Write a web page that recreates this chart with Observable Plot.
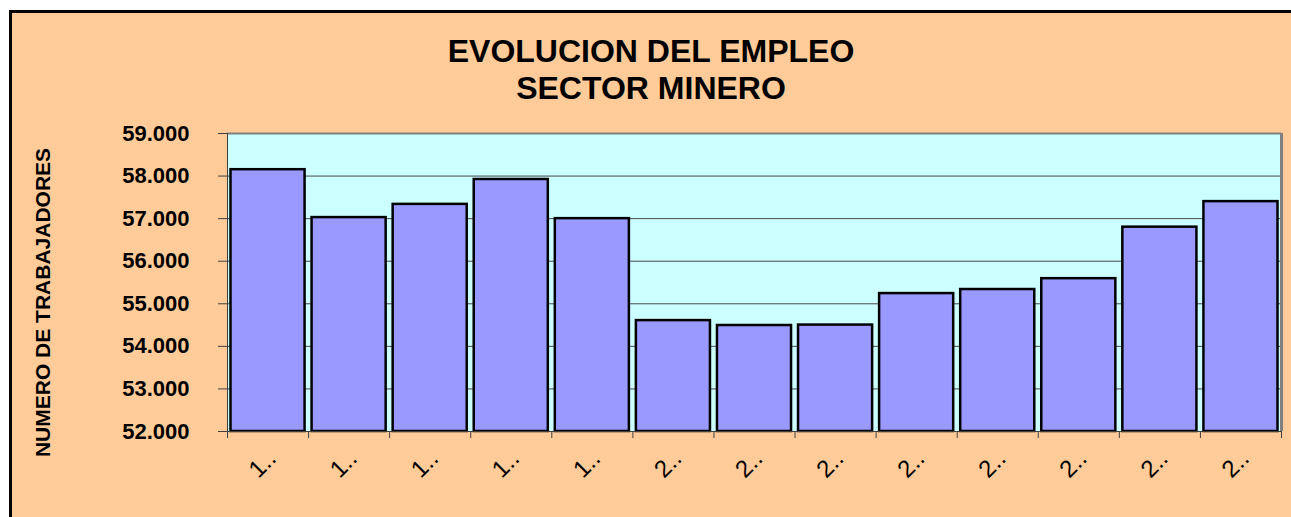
<!DOCTYPE html>
<html>
<head>
<meta charset="utf-8">
<script src="https://cdn.jsdelivr.net/npm/d3@7"></script>
<script src="https://cdn.jsdelivr.net/npm/@observablehq/plot@0.6"></script>
<style>
  body { margin: 0; background: #ffffff; }
  #wrap { position: relative; width: 1291px; height: 517px; overflow: hidden; font-family: Arial, "Liberation Sans", sans-serif; }
  #frame { position: absolute; left: 9px; top: 10px; width: 1320px; height: 620px; border: 3px solid #000; background: #FFCC99; box-sizing: border-box; }
  #title { position: absolute; left: 0; top: 33px; width: 1302px; text-align: center; font-weight: bold; font-size: 32px; line-height: 37px; color: #000; }
  #chart { position: absolute; left: 0; top: 120px; }
</style>
</head>
<body>
<div id="wrap">
  <div id="frame"></div>
  <div id="title">EVOLUCION DEL EMPLEO<br>SECTOR MINERO</div>
  <div id="chart"></div>
</div>
<script>
// Data
const categories = [1, 2, 3, 4, 5, 6, 7, 8, 9, 10, 11, 12, 13];
const tickLabels = ["1..", "1..", "1..", "1..", "1..", "2..", "2..", "2..", "2..", "2..", "2..", "2..", "2.."];
const workers = [58150, 57025, 57335, 57920, 57000, 54605, 54490, 54500, 55240, 55335, 55590, 56800, 57400];
const yTicks = [52000, 53000, 54000, 55000, 56000, 57000, 58000, 59000];
const yTitle = "NUMERO DE TRABAJADORES";

const data = categories.map((c, i) => ({idx: i, label: tickLabels[i], value: workers[i]}));
const boundaries = d3.range(categories.length + 1);
const fmt = d => d3.format(",")(d).replace(/,/g, ".");

const plot = Plot.plot({
  width: 1291,
  height: 397,
  marginTop: 13,
  marginBottom: 86,
  marginLeft: 227,
  marginRight: 10,
  style: {background: "transparent", overflow: "visible", fontFamily: "Arial, 'Liberation Sans', sans-serif", color: "#000"},
  x: {type: "linear", domain: [0, categories.length], axis: null},
  y: {domain: [52000, 59000], axis: null},
  marks: [
    Plot.frame({fill: "#CCFFFF", stroke: null}),
    Plot.ruleY(yTicks.slice(1, -1), {stroke: "#4a4a4a", strokeWidth: 1}),
    Plot.rectY(data, {
      x1: d => d.idx, x2: d => d.idx + 1, y1: 52000, y2: "value",
      insetLeft: 3.5, insetRight: 3.5,
      fill: "#9999FF", stroke: "#000", strokeWidth: 2.5
    }),
    Plot.ruleY([59000], {stroke: "#808080", strokeWidth: 2}),
    Plot.ruleX([categories.length], {stroke: "#808080", strokeWidth: 3}),
    Plot.ruleX([0], {stroke: "#404040", strokeWidth: 1}),
    Plot.ruleY([52000], {stroke: "#404040", strokeWidth: 1}),
    Plot.axisY({
      ticks: yTicks, tickSize: 9, tickPadding: 29, tickFormat: fmt,
      fontSize: 22, fontWeight: "bold", stroke: "#404040", fill: "#000", label: null
    }),
    Plot.axisX({
      ticks: boundaries, tickSize: 7, tickFormat: () => "", stroke: "#404040", label: null
    }),
    Plot.text(data, {
      x: d => d.idx + 0.5, text: "label", frameAnchor: "bottom", dy: 38,
      rotate: -45, fontSize: 24, fill: "#000"
    }),
    Plot.text([yTitle], {
      frameAnchor: "left", textAnchor: "middle", dx: -184, dy: 20, rotate: -90,
      fontSize: 21, fontWeight: "bold", fill: "#000"
    })
  ]
});
document.getElementById("chart").appendChild(plot);
</script>
</body>
</html>
